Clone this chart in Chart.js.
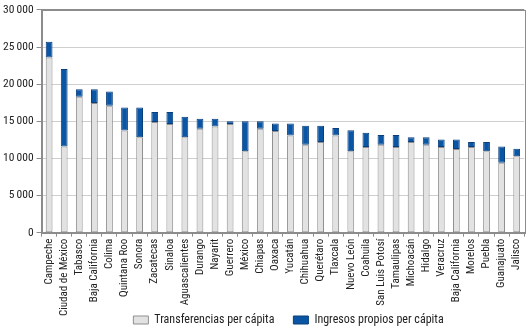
<!DOCTYPE html>
<html>
<head>
<meta charset="utf-8">
<script src="https://cdn.jsdelivr.net/npm/chart.js@4/dist/chart.umd.min.js"></script>
<style>
  html, body { margin: 0; padding: 0; background: #fff; }
  #wrap { width: 532px; height: 332px; }
</style>
</head>
<body>
<div id="wrap"><canvas id="chart"></canvas></div>
<script>
const states = ['Campeche', 'Ciudad de México', 'Tabasco', 'Baja California', 'Colima', 'Quintana Roo',
  'Sonora', 'Zacatecas', 'Sinaloa', 'Aguascalientes', 'Durango', 'Nayarit', 'Guerrero', 'México',
  'Chiapas', 'Oaxaca', 'Yucatán', 'Chihuahua', 'Querétaro', 'Tlaxcala', 'Nuevo León', 'Coahuila',
  'San Luis Potosí', 'Tamaulipas', 'Michoacán', 'Hidalgo', 'Veracruz', 'Baja California', 'Morelos',
  'Puebla', 'Guanajuato', 'Jalisco'];

// total per cápita (top of each bar) and the transfer part
const totals = [25700, 22050, 19300, 19300, 19000, 16850, 16850, 16250, 16250, 15600, 15350, 15350,
  15000, 15000, 15000, 14700, 14700, 14400, 14400, 14100, 13800, 13450, 13150, 13150, 12850, 12850,
  12550, 12550, 12200, 12200, 11600, 11300];
const transferencias = [23600, 11600, 18300, 17450, 17100, 13750, 12850, 14900, 14650, 12850, 14000,
  14300, 14650, 10950, 14000, 13700, 13100, 11850, 12200, 13100, 10950, 11550, 11850, 11550, 12200,
  11850, 11550, 11250, 11550, 10950, 9400, 10300];
const ingresosPropios = totals.map((t, i) => t - transferencias[i]);

const yTicks = [0, 5000, 10000, 15000, 20000, 25000, 30000];

const fontFamily = '"Roboto Condensed", "Open Sans", sans-serif';

// frame around the plot area; legend placed under the plot, tight to the labels
const frame = {
  id: 'frame',
  beforeDraw(chart) {
    const lg = chart.legend;
    if (!lg) return;
    lg.top = lg.bottom - 37;
    lg.left = 577 - lg.right;
  },
  afterDraw(chart) {
    const { ctx, chartArea: a } = chart;
    ctx.save();
    ctx.strokeStyle = '#8c8c8c';
    ctx.lineWidth = 1;
    ctx.strokeRect(Math.round(a.left) + 0.5, Math.round(a.top) + 0.5,
      Math.round(a.right - a.left), Math.round(a.bottom - a.top));
    ctx.restore();
  }
};

new Chart(document.getElementById('chart'), {
  type: 'bar',
  data: {
    labels: states,
    datasets: [
      {
        label: 'Transferencias per cápita',
        data: transferencias,
        backgroundColor: '#e2e2e2',
        borderColor: '#8f8f8f',
        borderWidth: 1,
        borderSkipped: false
      },
      {
        label: 'Ingresos propios per cápita',
        data: ingresosPropios,
        backgroundColor: '#0b56a4',
        borderColor: '#0a3f7c',
        borderWidth: 1,
        borderSkipped: false
      }
    ]
  },
  options: {
    responsive: true,
    maintainAspectRatio: false,
    animation: false,
    layout: { padding: { top: 0, right: 6, left: 0, bottom: 0 } },
    plugins: {
      tooltip: { enabled: false },
      legend: {
        position: 'bottom',
        maxHeight: 14,
        labels: {
          color: '#222',
          boxWidth: 15,
          boxHeight: 8,
          padding: 19,
          font: { family: fontFamily, size: 12 }
        }
      }
    },
    datasets: { bar: { categoryPercentage: 0.9, barPercentage: 0.5 } },
    scales: {
      x: {
        stacked: true,
        grid: { drawOnChartArea: false, tickLength: 4, color: '#8c8c8c' },
        border: { color: '#8c8c8c' },
        ticks: {
          color: '#222',
          minRotation: 90,
          maxRotation: 90,
          autoSkip: false,
          padding: 2,
          font: { family: fontFamily, size: 11 }
        }
      },
      y: {
        stacked: true,
        min: 0,
        max: 30000,
        afterBuildTicks(axis) { axis.ticks = yTicks.map(v => ({ value: v })); },
        grid: {
          color: c => c.tick && c.tick.value === 30000 ? '#8c8c8c' : '#cfcfcf',
          tickColor: '#8c8c8c',
          tickLength: 5
        },
        border: { color: '#8c8c8c' },
        ticks: {
          color: '#222',
          padding: 3,
          font: { family: fontFamily, size: 11.5 },
          callback: v => String(v).replace(/\B(?=(\d{3})+(?!\d))/g, '\u2009')
        }
      }
    }
  },
  plugins: [frame]
});
</script>
</body>
</html>
